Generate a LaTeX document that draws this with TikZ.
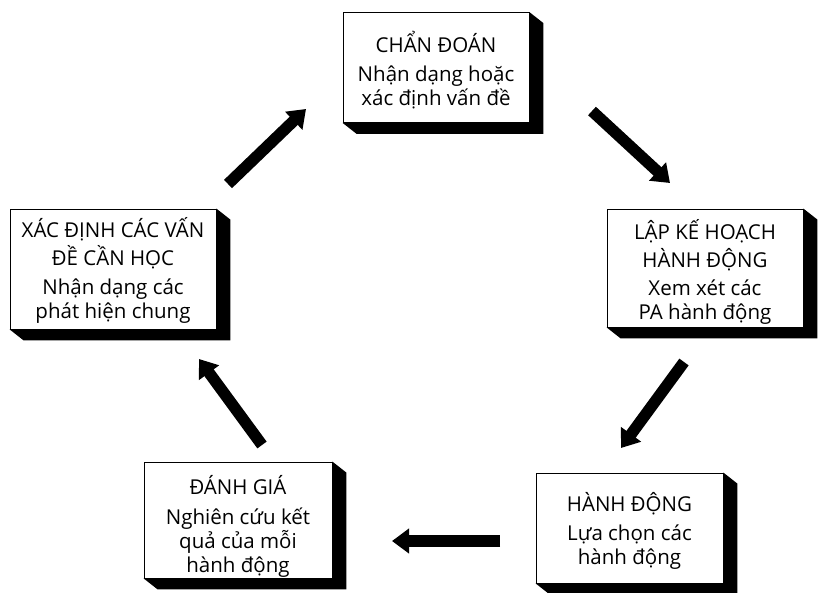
\documentclass[tikz,border=0pt]{standalone}
\usepackage{fontspec}
\setmainfont{Open Sans}
\usetikzlibrary{arrows.meta,calc}
\newcommand\boxshadow[1]{%
  \fill[black] (#1.north east) -- ++(14,11) -- ($(#1.south east)+(14,11)$)
    -- ($(#1.south west)+(14,11)$) -- (#1.south west) -- (#1.south east) -- cycle;}
\newcommand\topstrut{\rule{0pt}{24pt}}
\begin{document}
\begin{tikzpicture}[x=1pt,y=-1pt,
  stagebox/.style={draw=black,line width=0.8pt,fill=white,inner sep=0pt},
  boxtext/.style={inner sep=0pt,align=center,font=\fontsize{20.5}{24}\selectfont},
  bigarrow/.style={line width=11.5pt,
    -{Triangle[length=17pt,width=24pt]}}]
\useasboundingbox (0,0) rectangle (821,592);
\node[stagebox,minimum width=186pt,minimum height=110pt] (diag) at (436,67.5) {};
\boxshadow{diag}
\node[boxtext] (diagt) at ([yshift=-3pt]diag.center)
  {\topstrut CHẨN ĐOÁN\\[5.5pt]Nhận dạng hoặc\\xác định vấn đề\strut};
\node[stagebox,minimum width=196pt,minimum height=118pt] (plan) at (705,268) {};
\boxshadow{plan}
\node[boxtext] (plant) at ([yshift=-3pt]plan.center)
  {\topstrut LẬP KẾ HOẠCH\\[3.5pt]HÀNH ĐỘNG\\[4pt]Xem xét các\\PA hành động\strut};
\node[stagebox,minimum width=187pt,minimum height=110pt] (act) at (629.5,528) {};
\boxshadow{act}
\node[boxtext] (actt) at ([yshift=-2pt]act.center)
  {\topstrut HÀNH ĐỘNG\\[5pt]Lựa chọn các\\hành động\strut};
\node[stagebox,minimum width=188pt,minimum height=116pt] (eval) at (238,520) {};
\boxshadow{eval}
\node[boxtext] (evalt) at ([yshift=-5.5pt]eval.center)
  {\topstrut ĐÁNH GIÁ\\[6pt]Nghiên cứu kết\\quả của mỗi\\hành động\strut};
\node[stagebox,minimum width=206pt,minimum height=120pt] (learn) at (113,269) {};
\boxshadow{learn}
\node[boxtext] (learnt) at ([yshift=-1pt]learn.center)
  {\topstrut XÁC ĐỊNH CÁC VẤN\\[4pt]ĐỀ CẦN HỌC\\[5pt]Nhận dạng các\\phát hiện chung\strut};
\coordinate (a1s) at (592,111); \coordinate (a1e) at (670,183);
\coordinate (a2s) at (684,362); \coordinate (a2e) at (621,448);
\coordinate (a3s) at (500,541); \coordinate (a3e) at (392,541);
\coordinate (a4s) at (262,445); \coordinate (a4e) at (199,359);
\coordinate (a5s) at (228,184); \coordinate (a5e) at (306,109);
\draw[bigarrow] (a1s) -- (a1e);
\draw[bigarrow] (a2s) -- (a2e);
\draw[bigarrow] (a3s) -- (a3e);
\draw[bigarrow] (a4s) -- (a4e);
\draw[bigarrow] (a5s) -- (a5e);
\end{tikzpicture}
\end{document}
